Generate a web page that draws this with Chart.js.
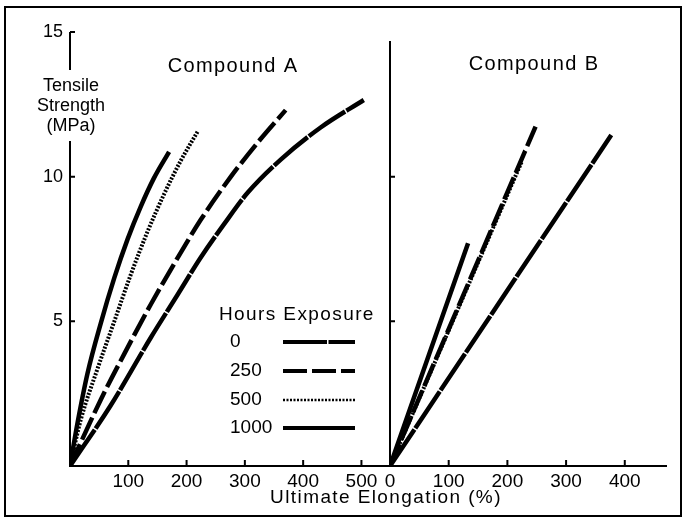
<!DOCTYPE html>
<html><head><meta charset="utf-8">
<script src="https://cdn.jsdelivr.net/npm/chart.js@4"></script>
<style>
html,body{margin:0;padding:0;background:#fff;}
#wrap{position:relative;width:685px;height:519px;background:#fff;overflow:hidden;}
#wrap canvas{position:absolute;left:0;top:0;}
#frame{position:absolute;left:4px;top:6px;width:674px;height:507px;border:2px solid #000;}
</style></head><body>
<div id="wrap"><div id="frame"></div>
<canvas id="cA" width="685" height="519"></canvas>
<canvas id="cB" width="685" height="519"></canvas></div>
<script>
// ---- data ----
const hours = ['0', '250', '500', '1000'];

// Compound A  (elongation %, tensile strength MPa)
const A_elong_0    = [0, 70, 139, 184, 224, 264, 305, 362, 430, 504];
const A_str_0      = [0, 2.1, 4.45, 5.9, 7.2, 8.35, 9.45, 10.6, 11.7, 12.65];
const A_elong_250  = [0, 53, 99, 139, 179, 224, 276, 327, 370];
const A_str_250    = [0, 2.3, 4.1, 5.6, 7.0, 8.5, 10.0, 11.3, 12.3];
const A_elong_500  = [0, 18.5, 47, 76, 104, 133, 161.5, 190, 219];
const A_str_500    = [0, 1.6, 3.35, 5.0, 6.6, 8.1, 9.4, 10.55, 11.56];
const A_elong_1000 = [0, 13, 30, 53, 76, 99, 121, 144, 170];
const A_str_1000   = [0, 1.5, 3.2, 4.95, 6.5, 7.85, 8.95, 9.95, 10.86];

// Compound B
const B_elong_0    = [0, 377];
const B_str_0      = [0, 11.44];
const B_elong_250  = [0, 248];
const B_str_250    = [0, 11.73];
const B_elong_500  = [0, 224];
const B_str_500    = [0, 10.5];
const B_elong_1000 = [0, 133];
const B_str_1000   = [0, 7.7];

const yTicks = [0, 5, 10, 15];
const xTicksA = [0, 100, 200, 300, 400, 500];
const xTicksB = [0, 100, 200, 300, 400];

const titleA = 'Compound A';
const titleB = 'Compound B';
const xTitle = 'Ultimate Elongation (%)';
const yTitleLines = ['Tensile', 'Strength', '(MPa)'];
const legendTitle = 'Hours Exposure';

// ---- styles ----
const FONT = '"Liberation Sans", Arial, Helvetica, sans-serif';
const lineStyles = {
  '0':    { dash: [44, 1.5], width: 4.5, order: 0 },
  '250':  { dash: [24, 5], width: 4.5, order: 1 },
  '500':  { dash: [2, 1.5], width: 4, order: -1 },
  '1000': { dash: [], width: 4.5, order: 2 }
};

function series(label, xs, ys) {
  const st = lineStyles[label];
  return {
    label: label,
    data: xs.map((x, i) => ({ x: x, y: ys[i] })),
    borderColor: '#000',
    backgroundColor: '#000',
    borderWidth: st.width,
    borderDash: st.dash,
    borderCapStyle: 'butt',
    order: st.order,
    pointRadius: 0,
    fill: false,
    cubicInterpolationMode: 'monotone'
  };
}

const dsA = [
  series(hours[0], A_elong_0, A_str_0),
  series(hours[1], A_elong_250, A_str_250),
  series(hours[2], A_elong_500, A_str_500),
  series(hours[3], A_elong_1000, A_str_1000)
];
const dsB = [
  series(hours[0], B_elong_0, B_str_0),
  series(hours[1], B_elong_250, B_str_250),
  series(hours[2], B_elong_500, B_str_500),
  series(hours[3], B_elong_1000, B_str_1000)
];

// axis lines + inward ticks, drawn from the chart's scales
const axesPlugin = {
  id: 'axesPlugin',
  afterDraw(chart, args, opts) {
    const { ctx, chartArea: a } = chart;
    const x = chart.scales.x, y = chart.scales.y;
    ctx.save();
    ctx.strokeStyle = '#000';
    ctx.setLineDash([]);
    ctx.lineCap = 'butt';
    ctx.lineWidth = 2;
    ctx.beginPath();
    ctx.moveTo(a.left - 1, a.bottom);
    ctx.lineTo(a.right + (opts.xExtra || 0), a.bottom);
    ctx.stroke();
    ctx.beginPath();
    x.ticks.forEach(t => {
      if (t.value === 0) return;
      const px = x.getPixelForValue(t.value);
      ctx.moveTo(px, a.bottom);
      ctx.lineTo(px, a.bottom - 6);
    });
    ctx.stroke();
    const top = a.top + (opts.yTopOffset || 0);
    ctx.beginPath();
    if (opts.gap) {
      ctx.moveTo(a.left, top);
      ctx.lineTo(a.left, opts.gap[0]);
      ctx.moveTo(a.left, opts.gap[1]);
      ctx.lineTo(a.left, a.bottom);
    } else {
      ctx.moveTo(a.left, top);
      ctx.lineTo(a.left, a.bottom);
    }
    ctx.stroke();
    ctx.beginPath();
    y.ticks.forEach(t => {
      if (t.value === 0) return;
      const py = y.getPixelForValue(t.value);
      if (py < top - 0.5) return;
      ctx.moveTo(a.left, py);
      ctx.lineTo(a.left + 5, py);
    });
    ctx.stroke();
    ctx.restore();
  }
};

// titles, axis titles and legend
const textPlugin = {
  id: 'textPlugin',
  afterDraw(chart, args, opts) {
    const { ctx, chartArea: a } = chart;
    ctx.save();
    ctx.fillStyle = '#000';
    ctx.textBaseline = 'middle';
    if (opts.panel === 'A') {
      ctx.textAlign = 'center';
      ctx.font = '20px ' + FONT;
      ctx.letterSpacing = '1.4px';
      ctx.fillText(titleA, 233, 66);
      ctx.font = '19px ' + FONT;
      ctx.fillText(xTitle, 386, 498);
      ctx.letterSpacing = '0px';
      ctx.font = '18px ' + FONT;
      yTitleLines.forEach((s, i) => ctx.fillText(s, a.left + 1, 86 + i * 20));
      // legend
      ctx.textAlign = 'left';
      ctx.font = '19px ' + FONT;
      ctx.letterSpacing = '1.4px';
      ctx.fillText(legendTitle, 219, 315);
      ctx.letterSpacing = '0px';
      const rows = [342, 371, 400, 428];
      chart.data.datasets.forEach((ds, i) => {
        ctx.fillStyle = '#000';
        ctx.fillText(ds.label, 230, rows[i]);
        ctx.strokeStyle = '#000';
        ctx.lineWidth = ds.label === '500' ? 2.5 : 4;
        ctx.setLineDash(ds.borderDash);
        ctx.lineCap = 'butt';
        ctx.beginPath();
        ctx.moveTo(283, rows[i]);
        ctx.lineTo(355, rows[i]);
        ctx.stroke();
      });
    } else {
      ctx.textAlign = 'center';
      ctx.font = '20px ' + FONT;
      ctx.letterSpacing = '1.4px';
      ctx.fillText(titleB, 534, 64);
    }
    ctx.restore();
  }
};

function makeChart(id, datasets, panel, xTicks, xMax, padding, yWidth, showYLabels, axesOpts) {
  return new Chart(document.getElementById(id), {
    type: 'line',
    data: { datasets: datasets },
    plugins: [axesPlugin, textPlugin],
    options: {
      responsive: false,
      animation: false,
      events: [],
      layout: { padding: padding },
      plugins: {
        legend: { display: false },
        title: { display: false },
        tooltip: { enabled: false },
        axesPlugin: axesOpts,
        textPlugin: { panel: panel }
      },
      scales: {
        x: {
          type: 'linear', min: 0, max: xMax,
          grid: { display: false, drawTicks: false },
          border: { display: false },
          afterBuildTicks: s => { s.ticks = xTicks.map(v => ({ value: v })); },
          ticks: {
            includeBounds: false,
            padding: 4,
            color: '#000',
            font: { family: FONT, size: 19 },
            maxRotation: 0,
            callback: v => (panel === 'A' && v === 0) ? '' : String(v)
          },
          afterFit: s => { s.height = 53; }
        },
        y: {
          type: 'linear', min: 0, max: 15,
          grid: { display: false, drawTicks: false },
          border: { display: false },
          afterBuildTicks: s => { s.ticks = yTicks.map(v => ({ value: v })); },
          ticks: {
            display: showYLabels,
            includeBounds: false,
            padding: 7,
            color: '#000',
            font: { family: FONT, size: 18 },
            callback: v => v === 0 ? '' : String(v)
          },
          afterFit: s => { s.width = yWidth; }
        }
      }
    }
  });
}

makeChart('cA', dsA, 'A', xTicksA, 549, { left: 0, top: 32, right: 295, bottom: 0 }, 70, true,
  { gap: [70, 141], xExtra: 0 });
makeChart('cB', dsB, 'B', xTicksB, 460, { left: 380, top: 32, right: 25, bottom: 0 }, 10, false,
  { yTopOffset: 9, xExtra: 7 });
</script>
</body></html>
